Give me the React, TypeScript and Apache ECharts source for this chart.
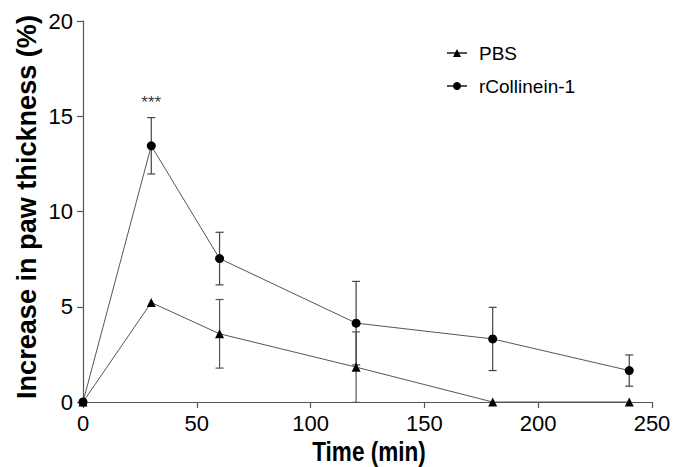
import React, { useEffect, useRef } from "react";
import * as echarts from "echarts";

const times = [0, 30, 60, 120, 180, 240];
const pbsMean = [0, 5.22, 3.58, 1.83, 0, 0];
const pbsErr = [0, 0, 1.8, 1.85, 0, 0];
const rcMean = [0, 13.45, 7.53, 4.14, 3.31, 1.65];
const rcErr = [0, 1.48, 1.38, 2.19, 1.66, 0.82];
const seriesNames = ["PBS", "rCollinein-1"];
const xTicks = [0, 50, 100, 150, 200, 250];
const yTicks = [0, 5, 10, 15, 20];
const annotations = [{ x: 30, y: 15.72, text: "***" }];
const xTitle = "Time (min)";
const yTitle = "Increase in paw thickness (%)";

const FONT = "'Liberation Sans', Arial, Helvetica, sans-serif";

export default function App() {
  const ref = useRef<HTMLDivElement>(null);
  useEffect(() => {
    if (!ref.current) return;
    const chart = echarts.init(ref.current, null, { renderer: "svg" });
    const errData = (m: number[], e: number[]) => times.map((t, i) => [t, m[i], e[i]]);
    const errSeries = (name: string, m: number[], e: number[], color: string) => ({
      type: "custom",
      name: name + "-err",
      z: 1,
      silent: true,
      data: errData(m, e),
      renderItem: (params: any, api: any) => {
        const x = api.value(0);
        const y = api.value(1);
        const er = api.value(2);
        if (!er) return null;
        const top = api.coord([x, y + er]);
        const bot = api.coord([x, y - er]);
        const w = 4;
        const st = { stroke: color, lineWidth: 1.2 };
        return {
          type: "group",
          children: [
            { type: "line", shape: { x1: top[0], y1: top[1], x2: bot[0], y2: bot[1] }, style: st },
            { type: "line", shape: { x1: top[0] - w, y1: top[1], x2: top[0] + w, y2: top[1] }, style: st },
            { type: "line", shape: { x1: bot[0] - w, y1: bot[1], x2: bot[0] + w, y2: bot[1] }, style: st },
          ],
        };
      },
    });
    chart.setOption({
      animation: false,
      textStyle: { fontFamily: FONT },
      grid: { left: 83, right: 35, top: 21, bottom: 65 },
      legend: {
        orient: "vertical",
        left: 441,
        top: 38,
        itemWidth: 20,
        itemHeight: 10,
        itemGap: 13,
        data: seriesNames,
        textStyle: { fontSize: 19, color: "#000", fontFamily: FONT, lineHeight: 20, padding: [0, 0, 0, 7] },
      },
      graphic: [
        {
          type: "text",
          x: 369,
          y: 451.5,
          scaleX: 0.805,
          style: {
            text: xTitle,
            fontSize: 28,
            fontWeight: "bold",
            fontFamily: FONT,
            fill: "#000",
            align: "center",
            verticalAlign: "middle",
          },
        },
        {
          type: "text",
          x: 26.5,
          y: 207,
          rotation: Math.PI / 2,
          scaleX: 0.968,
          style: {
            text: yTitle,
            fontSize: 28,
            fontWeight: "bold",
            fontFamily: FONT,
            fill: "#000",
            align: "center",
            verticalAlign: "middle",
          },
        },
      ],
      xAxis: {
        type: "value",
        min: 0,
        max: 250,
        interval: 50,
        axisLine: { show: true, lineStyle: { color: "#555", width: 1.2 } },
        axisTick: { show: true, length: 6, lineStyle: { color: "#555", width: 1.2 }, customValues: xTicks },
        axisLabel: { fontSize: 22, color: "#000", margin: 10, customValues: xTicks, fontFamily: FONT },
        splitLine: { show: false },
      },
      yAxis: {
        type: "value",
        min: 0,
        max: 20,
        interval: 5,
        axisLine: { show: true, lineStyle: { color: "#555", width: 1.2 } },
        axisTick: { show: true, length: 6, lineStyle: { color: "#555", width: 1.2 }, customValues: yTicks },
        axisLabel: { fontSize: 22, color: "#000", margin: 10, customValues: yTicks, fontFamily: FONT },
        splitLine: { show: false },
      },
      series: [
        errSeries("PBS", pbsMean, pbsErr, "#555"),
        errSeries("rCollinein-1", rcMean, rcErr, "#444"),
        {
          type: "line",
          name: seriesNames[0],
          z: 3,
          data: times.map((t, i) => [t, pbsMean[i]]),
          symbol: "triangle",
          symbolSize: 9,
          itemStyle: { color: "#000" },
          lineStyle: { color: "#555", width: 1 },
        },
        {
          type: "line",
          name: seriesNames[1],
          z: 3,
          data: times.map((t, i) => [t, rcMean[i]]),
          symbol: "circle",
          symbolSize: 9,
          itemStyle: { color: "#000" },
          lineStyle: { color: "#555", width: 1 },
        },
        {
          type: "scatter",
          name: "annot",
          symbolSize: 1,
          itemStyle: { color: "rgba(0,0,0,0)" },
          data: annotations.map((a) => ({ value: [a.x, a.y], label: { formatter: a.text } })),
          label: { show: true, position: "inside", fontSize: 17, color: "#000", fontFamily: FONT },
          silent: true,
        },
      ],
    });
    return () => chart.dispose();
  }, []);
  return (
    <div
      ref={ref}
      style={{ position: "absolute", left: 0, top: 0, width: 687, height: 467, background: "#fff" }}
    />
  );
}
